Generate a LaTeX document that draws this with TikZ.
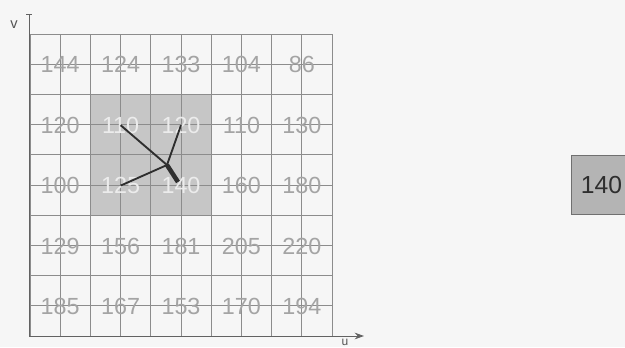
\documentclass[tikz,border=0pt]{standalone}
\usepackage{fontspec}
\setmainfont{Liberation Sans}
\usetikzlibrary{arrows.meta}
\definecolor{bg}{HTML}{F6F6F6}
\definecolor{gridc}{HTML}{8C8C8C}
\definecolor{numc}{HTML}{A4A4A4}
\definecolor{numw}{HTML}{ECECEC}
\definecolor{shadegray}{HTML}{C6C6C6}
\definecolor{handc}{HTML}{2E2E2E}
\definecolor{boxc}{HTML}{B4B4B4}
\tikzset{
  px/.style={x=0.75pt,y=-0.75pt},
  gridline/.style={draw=gridc,line width=0.6pt},
  num/.style={text=numc,font=\fontsize{17.5}{17.5}\selectfont,inner sep=0pt},
  numlight/.style={text=numw,font=\fontsize{17.5}{17.5}\selectfont,inner sep=0pt},
  hand/.style={draw=handc,line width=1.4pt},
  bighand/.style={draw=handc,line width=3.4pt},
  axis/.style={draw=gridc!70!black,line width=0.7pt},
  valbox/.style={fill=boxc,draw=gridc!80!black,line width=0.6pt,text=handc,font=\fontsize{18.5}{18.5}\selectfont,minimum width=45pt,minimum height=44.25pt,anchor=north west,inner sep=0pt}
}
\begin{document}
\begin{tikzpicture}[px]
\useasboundingbox[fill=bg] (0,0) rectangle (625,347);
% shaded 2x2
\fill[shadegray] (90.4,94.4) rectangle (211.2,215.2);
% cell boundaries
\foreach \i in {0,...,5} {
  \draw[gridline] ({30+60.4*\i},34) -- ({30+60.4*\i},336);
  \draw[gridline] (30,{34+60.4*\i}) -- (332,{34+60.4*\i});
}
% midlines
\foreach \i in {0,...,4} {
  \draw[gridline] ({60.2+60.4*\i},34) -- ({60.2+60.4*\i},336);
  \draw[gridline] (30,{64.2+60.4*\i}) -- (332,{64.2+60.4*\i});
}
% axes
\coordinate (o) at (29,336);
\coordinate (vt) at (29,14);
\coordinate (ut) at (364,336);
\draw[axis] (o) -- (vt);
\draw[axis] (26,14) -- (32,14);
\draw[axis,-{Stealth[length=7pt,width=5pt]}] (o) -- (ut);
\node[text=gridc!60!black,font=\fontsize{11}{11}\selectfont] (vl) at (14,25) {v};
\node[text=gridc!60!black,font=\fontsize{9}{9}\selectfont] (ul) at (345,342) {u};
% numbers
\foreach \r/\row in {0/{144,124,133,104,86},1/{120,110,120,110,130},2/{100,125,140,160,180},3/{129,156,181,205,220},4/{185,167,153,170,194}} {
  \foreach \v [count=\c from 0] in \row {
    \pgfmathtruncatemacro{\lt}{(\r==1 || \r==2) && (\c==1 || \c==2) ? 1 : 0}
    \ifnum\lt=1
      \node[numlight] (n\r\c) at ({60.2+60.4*\c},{64.8+60.4*\r}) {\v};
    \else
      \node[num] (n\r\c) at ({60.2+60.4*\c},{64.8+60.4*\r}) {\v};
    \fi
  }
}
% hands
\coordinate (ctr) at (167,165);
\draw[hand] (ctr) -- (n11.center);
\draw[hand] (ctr) -- (n12.center);
\draw[hand] (ctr) -- (n21.center);
\draw[bighand] (ctr) -- (178,182);
% value box
\node[valbox] (vb) at (571,155) {140};
\end{tikzpicture}
\end{document}
